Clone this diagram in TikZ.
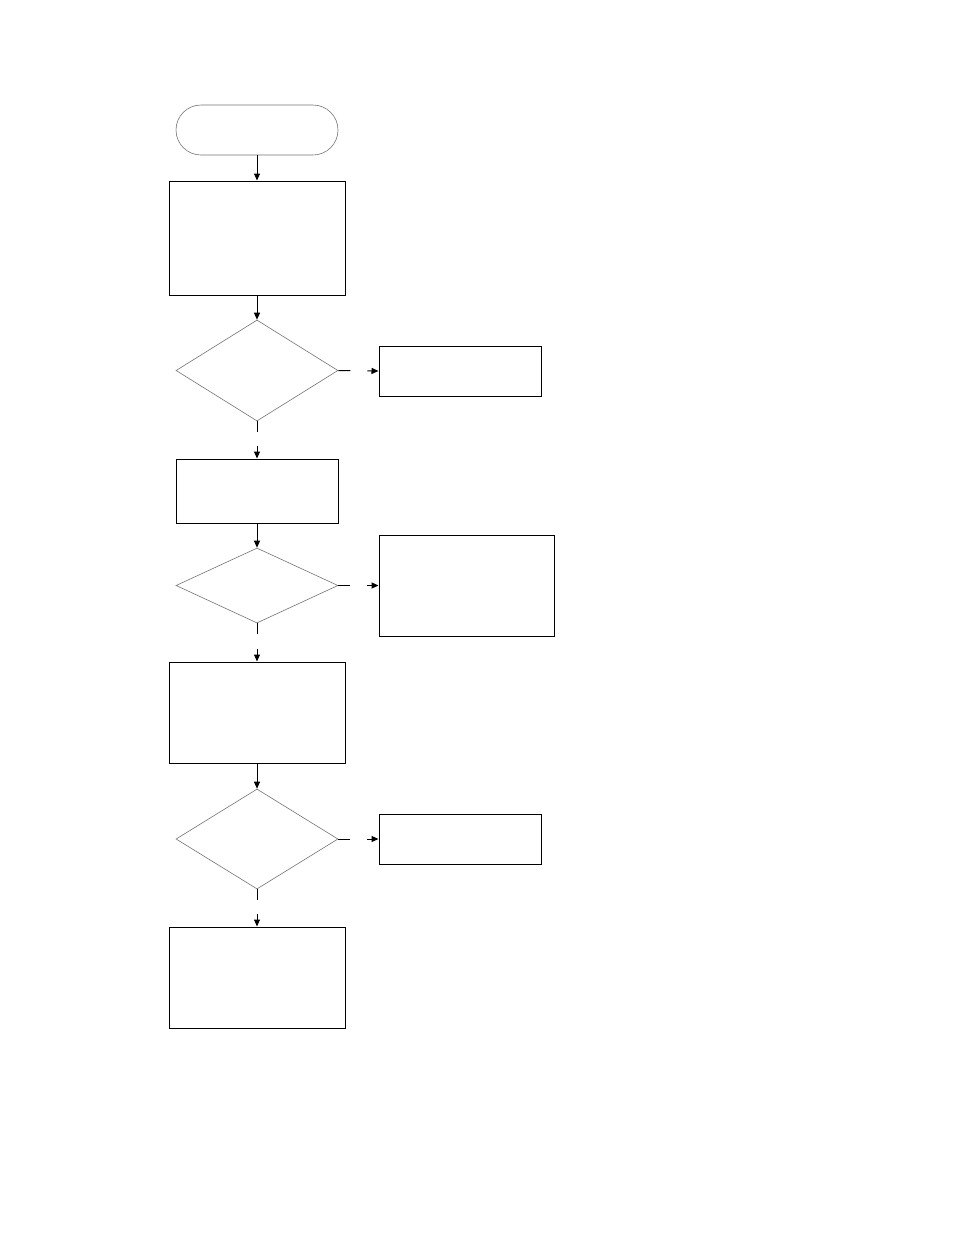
\documentclass[tikz,border=0pt]{standalone}
\usepackage{tikz}
\usetikzlibrary{arrows.meta,shapes.geometric}
\tikzset{
  terminal/.style={rectangle, rounded corners=25pt, draw=black!55, line width=0.6pt,
    minimum width=162pt, minimum height=50pt, inner sep=0pt},
  procbox/.style={rectangle, draw=black, line width=1pt, minimum width=176pt, inner sep=0pt},
  sidebox/.style={rectangle, draw=black, line width=1pt, minimum width=162pt, inner sep=0pt},
  decision/.style={diamond, draw=black!55, line width=0.6pt, minimum width=162pt, inner sep=0pt},
  arr/.style={-{Triangle[length=7pt,width=6pt]}, line width=1pt},
}

\begin{document}
\begin{tikzpicture}[x=1pt,y=-1pt]
  \useasboundingbox (0,0) rectangle (954,1235);
  % main column
  \node[terminal] (start) at (257,130) {};
  \node[procbox, minimum height=114pt] (init) at (257,238) {};
  \node[decision, minimum height=101pt] (testa) at (257,370.5) {};
  \node[procbox, minimum width=162pt, minimum height=64pt] (stepb) at (257,491) {};
  \node[decision, minimum height=75pt] (testb) at (257,585.5) {};
  \node[procbox, minimum height=101pt] (stepc) at (257,712.5) {};
  \node[decision, minimum height=100pt] (testc) at (257,839) {};
  \node[procbox, minimum height=101pt] (finish) at (257,977.5) {};
  % side branches
  \node[sidebox, minimum height=50pt] (outa) at (460,371) {};
  \node[sidebox, minimum width=175pt, minimum height=101pt] (outb) at (466.5,585.5) {};
  \node[sidebox, minimum height=50pt] (outc) at (460,839) {};
  % straight links
  \draw[arr] (start) -- (init);
  \draw[arr] (init) -- (testa);
  \draw[arr] (stepb) -- (testb);
  \draw[arr] (stepc) -- (testc);
  % broken links out of the decisions
  \draw[arr, dash pattern=on 11pt off 14pt on 30pt] (testa.south) -- (stepb.north);
  \draw[arr, dash pattern=on 11pt off 15pt on 30pt] (testb.south) -- (stepc.north);
  \draw[arr, dash pattern=on 11pt off 14pt on 30pt] (testc.south) -- (finish.north);
  \draw[arr, dash pattern=on 12pt off 17pt on 30pt] (testa.east) -- (outa.west);
  \draw[arr, dash pattern=on 12pt off 17pt on 30pt] (testb.east) -- (outb.west);
  \draw[arr, dash pattern=on 12pt off 17pt on 30pt] (testc.east) -- (outc.west);
\end{tikzpicture}
\end{document}
